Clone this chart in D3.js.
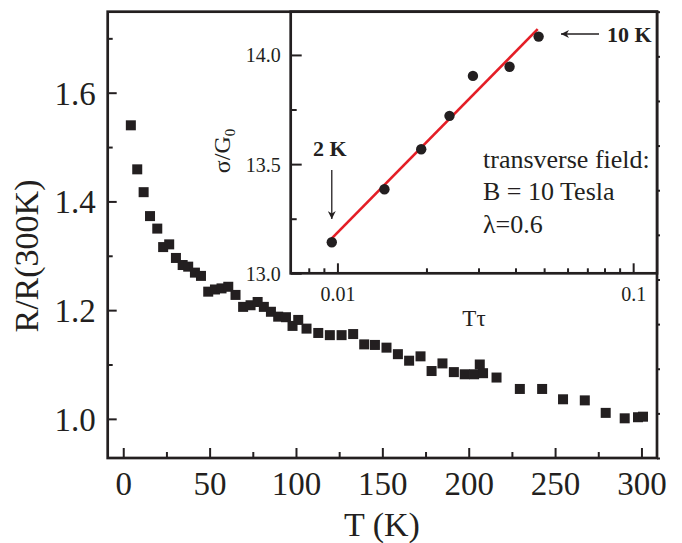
<!DOCTYPE html>
<html>
<head>
<meta charset="utf-8">
<script src="https://cdn.jsdelivr.net/npm/d3@7"></script>
<style>
  body { margin: 0; background: #fff; }
  svg { display: block; font-family: "Liberation Serif", "Times New Roman", serif; }
  .axis path.domain { display: none; }
  .axis line { stroke: #231f20; stroke-width: 2; }
</style>
</head>
<body>
<svg id="chart" width="682" height="543"></svg>
<script>
// main panel: R/R(300K) vs T
const temps = [4.4, 8.1, 11.8, 15.5, 19.7, 23.1, 26.6, 30.5, 34.4, 37.6, 41.5, 45.0, 49.2, 53.1, 56.9, 60.8,
  65.0, 69.4, 73.7, 77.8, 81.4, 85.5, 89.7, 94.2, 98.0, 101.3, 106.1, 112.9, 119.6, 126.4, 133.1, 139.5,
  145.7, 152.4, 159.0, 165.5, 172.1, 178.5, 184.8, 191.4, 197.7, 203.1, 206.4, 208.3, 216.1, 229.6, 242.5,
  254.6, 267.2, 279.3, 290.3, 298.0, 300.9];
const ratios = [1.540, 1.459, 1.417, 1.373, 1.350, 1.316, 1.321, 1.296, 1.283, 1.280, 1.269, 1.263, 1.234, 1.238, 1.240, 1.243,
  1.228, 1.206, 1.209, 1.215, 1.206, 1.197, 1.188, 1.187, 1.171, 1.182, 1.166, 1.158, 1.154, 1.154, 1.156, 1.137,
  1.136, 1.131, 1.119, 1.107, 1.115, 1.088, 1.102, 1.086, 1.082, 1.082, 1.100, 1.084, 1.076, 1.055, 1.055,
  1.036, 1.034, 1.011, 1.001, 1.003, 1.004];
const xTicks = [0, 50, 100, 150, 200, 250, 300];
const xMinor = [25, 75, 125, 175, 225, 275];
const yTicks = [1.0, 1.2, 1.4, 1.6];
const yMinor = [1.1, 1.3, 1.5, 1.7];

// inset: sigma/G0 vs T*tau
const tTau = [0.00957, 0.01442, 0.0192, 0.02393, 0.02872, 0.0382, 0.0479];
const sigma = [13.142, 13.385, 13.568, 13.721, 13.904, 13.946, 14.084];
const fitX = [0.00957, 0.04755];
const fitY = [13.160, 14.118];
const insetXTicks = [0.01, 0.1];
const insetXMinor = [0.008, 0.009, 0.02, 0.03, 0.04, 0.05, 0.06, 0.07, 0.08, 0.09];
const insetYTicks = [13.0, 13.5, 14.0];
const insetYMinor = [13.25, 13.75];

const ink = '#231f20';
const serif = '"Liberation Serif", "Times New Roman", serif';
const svg = d3.select('#chart');
svg.append('rect').attr('width', 682).attr('height', 543).attr('fill', '#fff');

const mL = 107.7, mR = 657, mT = 11.7, mB = 458;
const x = d3.scaleLinear().domain([-9, 309]).range([mL, mR]);
const y = d3.scaleLinear().domain([0.928, 1.749]).range([mB, mT]);

// bottom axis
const gx = svg.append('g').attr('class', 'axis').attr('transform', `translate(0,${mB})`);
gx.call(d3.axisBottom(x).tickValues(xTicks).tickSize(-10).tickSizeOuter(0));
gx.append('g').call(d3.axisBottom(x).tickValues(xMinor).tickSize(-6).tickSizeOuter(0).tickFormat(''));
gx.selectAll('text')
  .attr('y', 37).attr('dy', 0)
  .attr('font-family', serif).attr('font-size', 33).attr('fill', ink);

// left axis
const gy = svg.append('g').attr('class', 'axis').attr('transform', `translate(${mL},0)`);
gy.call(d3.axisLeft(y).tickValues(yTicks).tickSize(-9).tickSizeOuter(0).tickFormat(d3.format('.1f')));
gy.append('g').call(d3.axisLeft(y).tickValues(yMinor).tickSize(-5).tickSizeOuter(0).tickFormat(''));
gy.selectAll('text')
  .attr('x', -12).attr('y', 11.5).attr('dy', 0)
  .attr('font-family', serif).attr('font-size', 33).attr('fill', ink);

// right side tiny ticks (ten divisions)
const yr = d3.scaleLinear().domain([0, 10]).range([mB, mT]);
svg.append('g').attr('class', 'axis').attr('transform', `translate(${mR},0)`)
  .call(d3.axisRight(yr).ticks(10).tickSize(3).tickSizeOuter(0).tickFormat(''));

// frame
svg.append('rect').attr('x', mL).attr('y', mT).attr('width', mR - mL).attr('height', mB - mT)
  .attr('fill', 'none').attr('stroke', ink).attr('stroke-width', 2.7);

// squares
svg.append('g').selectAll('rect').data(temps).join('rect')
  .attr('x', d => x(d) - 5).attr('y', (d, i) => y(ratios[i]) - 5)
  .attr('width', 10).attr('height', 10).attr('fill', ink);

// titles
svg.append('text').attr('text-anchor', 'middle').attr('x', 382).attr('y', 536)
  .attr('font-size', 34).attr('fill', ink).text('T (K)');
svg.append('text').attr('text-anchor', 'middle')
  .attr('transform', 'translate(38,256) rotate(-90)')
  .attr('font-size', 34).attr('fill', ink).text('R/R(300K)');

// ---------- inset ----------
const iL = 290.7, iB = 273.3;
const xi = d3.scaleLog().domain([0.00695, 0.1204]).range([iL, mR]);
const yi = d3.scaleLinear().domain([13.0, 14.198]).range([iB, mT]);

svg.append('rect').attr('x', iL).attr('y', mT).attr('width', mR - iL).attr('height', iB - mT)
  .attr('fill', '#fff');

const gxi = svg.append('g').attr('class', 'axis').attr('transform', `translate(0,${iB})`);
gxi.call(d3.axisBottom(xi).tickValues(insetXTicks).tickSize(-10).tickSizeOuter(0).tickFormat(d => d === 0.1 ? '0.1' : '0.01'));
gxi.append('g').call(d3.axisBottom(xi).tickValues(insetXMinor).tickSize(-5).tickSizeOuter(0).tickFormat(''));
gxi.selectAll('text').attr('y', 27.5).attr('dy', 0)
  .attr('font-family', serif).attr('font-size', 20).attr('fill', ink);

const gyi = svg.append('g').attr('class', 'axis').attr('transform', `translate(${iL},0)`);
gyi.call(d3.axisLeft(yi).tickValues(insetYTicks).tickSize(-11).tickSizeOuter(0).tickFormat(d3.format('.1f')));
gyi.append('g').call(d3.axisLeft(yi).tickValues(insetYMinor).tickSize(-6).tickSizeOuter(0).tickFormat(''));
gyi.selectAll('text').attr('x', -10).attr('y', 7).attr('dy', 0)
  .attr('font-family', serif).attr('font-size', 20).attr('fill', ink);

svg.append('rect').attr('x', iL).attr('y', mT).attr('width', mR - iL).attr('height', iB - mT)
  .attr('fill', 'none').attr('stroke', ink).attr('stroke-width', 2.7);

// fit line
svg.append('path')
  .attr('d', d3.line().x(d => xi(d[0])).y(d => yi(d[1]))(fitX.map((v, i) => [v, fitY[i]])))
  .attr('stroke', '#e41e26').attr('stroke-width', 2.6).attr('fill', 'none');

svg.append('g').selectAll('circle').data(tTau).join('circle')
  .attr('cx', d => xi(d)).attr('cy', (d, i) => yi(sigma[i])).attr('r', 5.2).attr('fill', ink);

// arrows
const defs = svg.append('defs');
defs.append('marker').attr('id', 'head').attr('viewBox', '0 0 10 10').attr('refX', 10).attr('refY', 5)
  .attr('markerWidth', 8).attr('markerHeight', 8).attr('markerUnits', 'userSpaceOnUse').attr('orient', 'auto')
  .append('path').attr('d', 'M0,0 L10,5 L0,10 L3,5 Z').attr('fill', ink);

svg.append('line').attr('x1', xi(tTau[0])).attr('x2', xi(tTau[0])).attr('y1', 170).attr('y2', 219)
  .attr('stroke', ink).attr('stroke-width', 1.3).attr('marker-end', 'url(#head)');
svg.append('text').attr('x', 313).attr('y', 156).attr('font-size', 22).attr('font-weight', 'bold')
  .attr('fill', ink).text('2 K');

svg.append('line').attr('x1', 599).attr('x2', 561).attr('y1', 34).attr('y2', 34)
  .attr('stroke', ink).attr('stroke-width', 1.3).attr('marker-end', 'url(#head)');
svg.append('text').attr('x', 607).attr('y', 42).attr('font-size', 22).attr('font-weight', 'bold')
  .attr('fill', ink).text('10 K');

const note = svg.append('text').attr('font-size', 26).attr('fill', ink);
note.append('tspan').attr('x', 483).attr('y', 168).text('transverse field:');
note.append('tspan').attr('x', 483).attr('y', 200).text('B = 10 Tesla');
note.append('tspan').attr('x', 483).attr('y', 233).text('λ=0.6');

// inset titles
svg.append('text').attr('text-anchor', 'middle').attr('x', 474).attr('y', 326)
  .attr('font-size', 23).attr('fill', ink).text('Tτ');
const sg = svg.append('text').attr('text-anchor', 'middle')
  .attr('transform', 'translate(230,151) rotate(-90)').attr('font-size', 24).attr('fill', ink);
sg.append('tspan').text('σ/G');
sg.append('tspan').attr('font-size', 15).attr('dy', 5).text('0');
</script>
</body>
</html>
